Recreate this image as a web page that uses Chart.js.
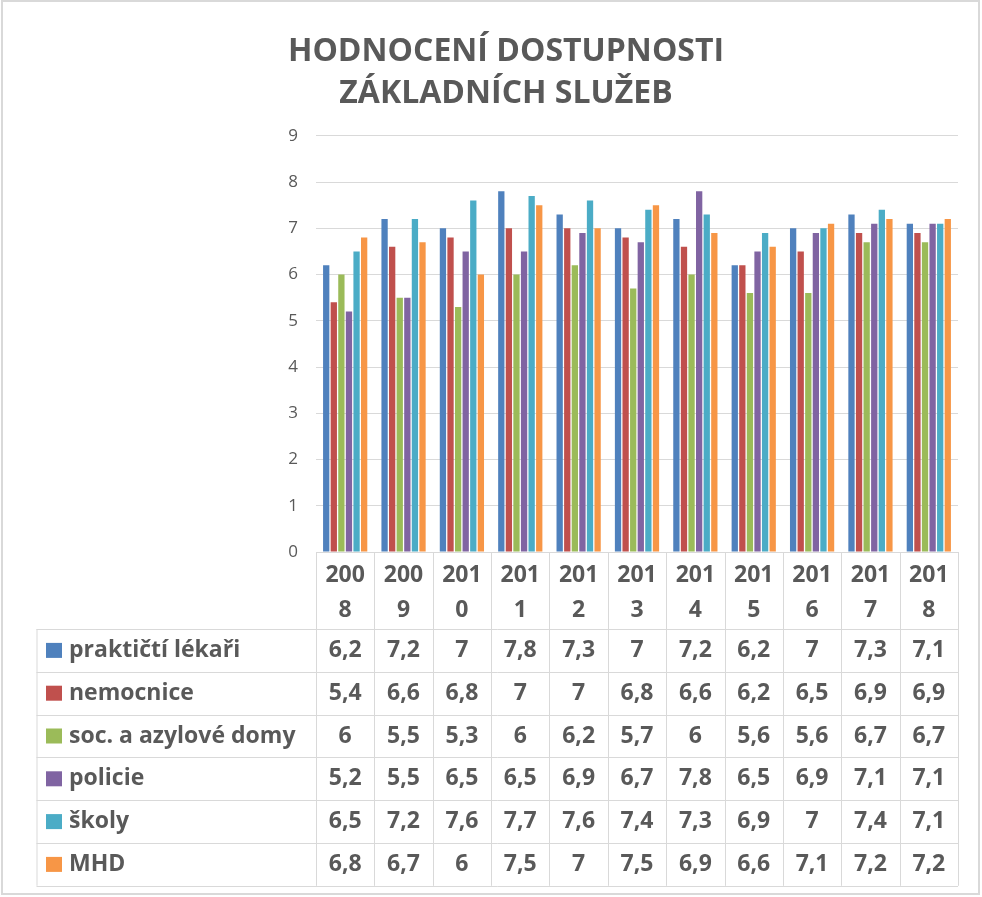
<!DOCTYPE html>
<html lang="cs">
<head>
<meta charset="utf-8">
<title>Hodnocení dostupnosti základních služeb</title>
<script src="https://cdn.jsdelivr.net/npm/chart.js@4.4.1/dist/chart.umd.min.js"></script>
<style>
    html, body { margin: 0; padding: 0; background: #ffffff; }
    #graf { display: block; }
</style>
</head>
<body>
<canvas id="graf" width="982" height="897"></canvas>
<script>
// roky (kategorie)
const roky = ["2008", "2009", "2010", "2011", "2012", "2013", "2014", "2015", "2016", "2017", "2018"];

// hodnoty jednotlivych sluzeb
const praktictiLekari = [6.2, 7.2, 7, 7.8, 7.3, 7, 7.2, 6.2, 7, 7.3, 7.1];
const nemocnice = [5.4, 6.6, 6.8, 7, 7, 6.8, 6.6, 6.2, 6.5, 6.9, 6.9];
const azyloveDomy = [6, 5.5, 5.3, 6, 6.2, 5.7, 6, 5.6, 5.6, 6.7, 6.7];
const policie = [5.2, 5.5, 6.5, 6.5, 6.9, 6.7, 7.8, 6.5, 6.9, 7.1, 7.1];
const skoly = [6.5, 7.2, 7.6, 7.7, 7.6, 7.4, 7.3, 6.9, 7, 7.4, 7.1];
const mhd = [6.8, 6.7, 6, 7.5, 7, 7.5, 6.9, 6.6, 7.1, 7.2, 7.2];

const nazvySluzeb = ["praktičtí lékaři", "nemocnice", "soc. a azylové domy", "policie", "školy", "MHD"];
const barvy = ["#4F81BD", "#C0504D", "#9BBB59", "#8064A2", "#4BACC6", "#F79646"];

const SEDA_TEXT = "#595959";
const SEDA_CARA = "#d9d9d9";
const FONT = "'Open Sans', 'DejaVu Sans', sans-serif";

// tabulka s daty pod grafem (jako v Excelu)
const tabulkaPlugin = {
    id: "tabulka",
    beforeDraw(chart) {
        const ctx = chart.ctx;
        ctx.save();
        ctx.fillStyle = "#ffffff";
        ctx.fillRect(0, 0, chart.width, chart.height);
        // ramecek grafu
        ctx.strokeStyle = SEDA_CARA;
        ctx.lineWidth = 2;
        ctx.strokeRect(2, 1, chart.width - 5, chart.height - 4);
        ctx.restore();
    },
    afterDraw(chart) {
        const ctx = chart.ctx;
        const area = chart.chartArea;
        const xScale = chart.scales.x;
        const sirka = (area.right - area.left) / roky.length;
        const hlavickaVyska = 77;
        const radekVyska = 42.8;
        const levyOkraj = 36.5;
        const horni = area.bottom;
        const hlavickaDole = horni + hlavickaVyska;
        const dole = hlavickaDole + radekVyska * nazvySluzeb.length;

        ctx.save();
        ctx.strokeStyle = SEDA_CARA;
        ctx.lineWidth = 1;

        // vodorovne cary
        ctx.beginPath();
        ctx.moveTo(area.left, horni + 0.5);
        ctx.lineTo(area.right, horni + 0.5);
        for (let r = 0; r <= nazvySluzeb.length; r++) {
            const y = Math.round(hlavickaDole + r * radekVyska) + 0.5;
            ctx.moveTo(levyOkraj, y);
            ctx.lineTo(area.right, y);
        }
        // svisle cary
        for (let i = 0; i <= roky.length; i++) {
            const x = Math.round(area.left + i * sirka) + 0.5;
            ctx.moveTo(x, horni);
            ctx.lineTo(x, dole);
        }
        ctx.moveTo(levyOkraj + 0.5, hlavickaDole);
        ctx.lineTo(levyOkraj + 0.5, dole);
        ctx.stroke();

        ctx.fillStyle = SEDA_TEXT;
        ctx.textAlign = "center";
        ctx.textBaseline = "middle";
        ctx.font = "bold 23px " + FONT;

        // hlavicka s roky (zalomene jako v originale)
        roky.forEach((rok, i) => {
            const x = xScale.getPixelForValue(i);
            ctx.fillText(rok.slice(0, 3), x, horni + 23);
            ctx.fillText(rok.slice(3), x, horni + 58);
        });

        // radky s hodnotami a legendou
        chart.data.datasets.forEach((ds, r) => {
            const yStred = hlavickaDole + r * radekVyska + radekVyska / 2;
            ctx.fillStyle = ds.backgroundColor;
            ctx.fillRect(46, yStred - 7.5, 16, 15);
            ctx.fillStyle = SEDA_TEXT;
            ctx.textAlign = "left";
            ctx.fillText(ds.label, 69, yStred);
            ctx.textAlign = "center";
            ds.data.forEach((v, i) => {
                const x = xScale.getPixelForValue(i);
                ctx.fillText(String(v).replace(".", ","), x, yStred);
            });
        });
        ctx.restore();
    }
};

const serie = [praktictiLekari, nemocnice, azyloveDomy, policie, skoly, mhd];

new Chart(document.getElementById("graf"), {
    type: "bar",
    data: {
        labels: roky,
        datasets: serie.map((data, i) => ({
            label: nazvySluzeb[i],
            data: data,
            backgroundColor: barvy[i],
            borderWidth: 0,
            categoryPercentage: 0.78,
            barPercentage: 0.83
        }))
    },
    options: {
        responsive: false,
        animation: false,
        layout: {
            padding: { left: 54, right: 24, top: 0, bottom: 345 }
        },
        plugins: {
            legend: { display: false },
            tooltip: { enabled: false },
            title: {
                display: true,
                text: ["HODNOCENÍ DOSTUPNOSTI", "ZÁKLADNÍCH SLUŽEB"],
                color: SEDA_TEXT,
                font: { family: FONT, size: 32, weight: "bold", lineHeight: 1.34 },
                padding: { top: 30, bottom: 20 }
            }
        },
        scales: {
            x: {
                display: false
            },
            y: {
                min: 0,
                max: 9,
                ticks: {
                    stepSize: 1,
                    color: SEDA_TEXT,
                    padding: 18,
                    font: { family: FONT, size: 17 }
                },
                grid: {
                    color: SEDA_CARA,
                    drawTicks: false
                },
                border: { display: false },
                afterFit(scale) {
                    scale.width = 262;
                }
            }
        }
    },
    plugins: [tabulkaPlugin]
});
</script>
</body>
</html>
